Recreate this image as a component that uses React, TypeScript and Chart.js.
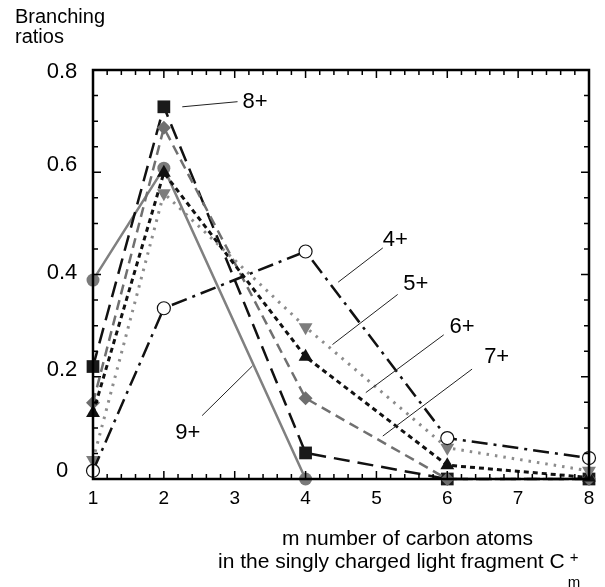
import React, { useEffect, useRef } from 'react';
import { Chart, registerables } from 'chart.js';

Chart.register(...registerables);

// ---- Data ----
const carbonAtoms = [1, 2, 4, 6, 8];
const carbonAtoms9 = [1, 2, 4];
const ratios4 = [0.016, 0.334, 0.445, 0.080, 0.041];
const ratios5 = [0.037, 0.559, 0.297, 0.061, 0.016];
const ratios6 = [0.129, 0.599, 0.239, 0.027, 0.003];
const ratios7 = [0.149, 0.687, 0.158, 0.0, 0.0];
const ratios8 = [0.220, 0.728, 0.051, 0.0, 0.0];
const ratios9 = [0.389, 0.608, 0.0];
const seriesLabels = ['4+', '5+', '6+', '7+', '8+', '9+'];
const xTickValues = [1, 2, 3, 4, 5, 6, 7, 8];
const yTickValues = [0, 0.2, 0.4, 0.6, 0.8];
const yTickLabels = ['0', '0.2', '0.4', '0.6', '0.8'];

const FONT = '"Liberation Sans", Arial, Helvetica, sans-serif';

// label annotations (in data coordinates): [lineFromX, lineFromY, lineToX, lineToY, textX, textY]
const labelAnchors: Record<string, number[]> = {
  '8+': [2.26, 0.728, 3.04, 0.738, 3.11, 0.738],
  '4+': [4.46, 0.385, 5.09, 0.452, 5.09, 0.468],
  '5+': [4.38, 0.263, 5.30, 0.361, 5.38, 0.381],
  '6+': [4.85, 0.169, 5.95, 0.282, 6.03, 0.298],
  '7+': [5.09, 0.084, 6.35, 0.215, 6.52, 0.239],
  '9+': [2.54, 0.124, 3.25, 0.221, 2.16, 0.090],
};

const toPoints = (xs: number[], ys: number[]) => xs.map((x, i) => ({ x, y: ys[i] }));

const decorPlugin = {
  id: 'decor',
  afterDraw(chart: any) {
    const { ctx, chartArea: a, scales } = chart;
    const xs = scales.x;
    const ys = scales.y;
    ctx.save();
    // frame
    ctx.strokeStyle = '#000';
    ctx.lineWidth = 2.5;
    ctx.setLineDash([]);
    ctx.strokeRect(a.left, a.top, a.right - a.left, a.bottom - a.top);
    // x ticks (minor every 0.2)
    ctx.lineWidth = 1.5;
    for (let i = 0; i <= 35; i++) {
      const v = 1 + i * 0.2;
      const px = xs.getPixelForValue(v);
      const len = i % 5 === 0 ? 8 : 5;
      ctx.beginPath();
      ctx.moveTo(px, a.bottom);
      ctx.lineTo(px, a.bottom - len);
      ctx.moveTo(px, a.top);
      ctx.lineTo(px, a.top + len);
      ctx.stroke();
    }
    // y ticks (minor every 0.05)
    for (let i = 0; i <= 16; i++) {
      const v = i * 0.05;
      const py = ys.getPixelForValue(v);
      const len = i % 4 === 0 ? 8 : 5;
      ctx.beginPath();
      ctx.moveTo(a.left, py);
      ctx.lineTo(a.left + len, py);
      ctx.moveTo(a.right, py);
      ctx.lineTo(a.right - len, py);
      ctx.stroke();
    }
    // y tick labels
    const yOffsets = [-8, -7, -2, -7, 2];
    ctx.fillStyle = '#000';
    ctx.font = `22px ${FONT}`;
    ctx.textAlign = 'center';
    ctx.textBaseline = 'middle';
    yTickValues.forEach((v, i) => {
      ctx.fillText(yTickLabels[i], a.left - 31, ys.getPixelForValue(v) + yOffsets[i]);
    });
    // series labels with leader lines
    ctx.lineWidth = 1;
    ctx.strokeStyle = '#222';
    ctx.textAlign = 'left';
    ctx.font = `22px ${FONT}`;
    seriesLabels.forEach((lab) => {
      const p = labelAnchors[lab];
      if (!p) return;
      ctx.beginPath();
      ctx.moveTo(xs.getPixelForValue(p[0]), ys.getPixelForValue(p[1]));
      ctx.lineTo(xs.getPixelForValue(p[2]), ys.getPixelForValue(p[3]));
      ctx.stroke();
      ctx.fillText(lab, xs.getPixelForValue(p[4]), ys.getPixelForValue(p[5]));
    });
    // y-axis title
    ctx.textBaseline = 'alphabetic';
    ctx.font = `20px ${FONT}`;
    ctx.fillText('Branching', 15, 23);
    ctx.fillText('ratios', 15, 43);
    // x-axis title
    ctx.font = `21px ${FONT}`;
    ctx.fillText('m number of carbon atoms', 282, 545);
    const line2 = 'in the singly charged light fragment C';
    ctx.fillText(line2, 218, 568);
    const w = ctx.measureText(line2).width;
    ctx.font = `15px ${FONT}`;
    ctx.fillText('m', 218 + w + 3, 587);
    ctx.fillText('+', 218 + w + 5, 562);
    ctx.restore();
  },
};

export default function App() {
  const ref = useRef<HTMLCanvasElement>(null);
  useEffect(() => {
    if (!ref.current) return;
    const black = '#111111';
    const chart = new Chart(ref.current, {
      type: 'line',
      data: {
        datasets: [
          {
            label: seriesLabels[0],
            data: toPoints(carbonAtoms, ratios4),
            borderColor: black,
            borderWidth: 2.5,
            borderDash: [16, 6, 3, 6],
            pointStyle: 'circle',
            pointRadius: 6.5,
            pointBackgroundColor: '#ffffff',
            pointBorderColor: black,
            pointBorderWidth: 1.2,
          },
          {
            label: seriesLabels[1],
            data: toPoints(carbonAtoms, ratios5),
            borderColor: '#8c8c8c',
            borderWidth: 3,
            borderDash: [2.5, 6],
            pointStyle: 'triangle',
            rotation: 180,
            pointRadius: 8,
            pointBackgroundColor: '#7d7d7d',
            pointBorderColor: '#7d7d7d',
            pointBorderWidth: 0,
          },
          {
            label: seriesLabels[2],
            data: toPoints(carbonAtoms, ratios6),
            borderColor: black,
            borderWidth: 3,
            borderDash: [5, 4],
            pointStyle: 'triangle',
            pointRadius: 8,
            pointBackgroundColor: black,
            pointBorderColor: black,
            pointBorderWidth: 0,
          },
          {
            label: seriesLabels[3],
            data: toPoints(carbonAtoms, ratios7),
            borderColor: '#707070',
            borderWidth: 2.5,
            borderDash: [10, 6],
            pointStyle: 'rectRot',
            pointRadius: 7,
            pointBackgroundColor: '#6e6e6e',
            pointBorderColor: '#6e6e6e',
            pointBorderWidth: 0,
          },
          {
            label: seriesLabels[4],
            data: toPoints(carbonAtoms, ratios8),
            borderColor: black,
            borderWidth: 2.5,
            borderDash: [16, 8],
            pointStyle: 'rect',
            pointRadius: 9,
            pointBackgroundColor: '#1a1a1a',
            pointBorderColor: '#1a1a1a',
            pointBorderWidth: 0,
          },
          {
            label: seriesLabels[5],
            data: toPoints(carbonAtoms9, ratios9),
            borderColor: '#808080',
            borderWidth: 2.5,
            pointStyle: 'circle',
            pointRadius: 6.5,
            pointBackgroundColor: '#7a7a7a',
            pointBorderColor: '#7a7a7a',
            pointBorderWidth: 0,
          },
        ],
      },
      options: {
        responsive: false,
        animation: false,
        events: [],
        clip: false as any,
        layout: { padding: { top: 70, right: 16, left: 0, bottom: 0 } },
        plugins: { legend: { display: false }, tooltip: { enabled: false }, title: { display: false } },
        scales: {
          x: {
            type: 'linear',
            min: 1,
            max: 8,
            afterFit: (s: any) => { s.height = 108; },
            afterBuildTicks: (s: any) => { s.ticks = xTickValues.map((v) => ({ value: v })); },
            grid: { display: false, drawTicks: false },
            border: { display: false },
            ticks: {
              color: '#000',
              font: { family: FONT, size: 19 },
              padding: 8,
              maxRotation: 0,
              callback: (v: any) => String(v),
            },
          },
          y: {
            type: 'linear',
            min: 0,
            max: 0.8,
            afterFit: (s: any) => { s.width = 93; },
            afterBuildTicks: (s: any) => { s.ticks = yTickValues.map((v) => ({ value: v })); },
            grid: { display: false, drawTicks: false },
            border: { display: false },
            ticks: { display: false },
          },
        },
      },
      plugins: [decorPlugin],
    });
    return () => chart.destroy();
  }, []);
  return (
    <div style={{ position: 'fixed', left: 0, top: 0, width: 605, height: 587, background: '#fff' }}>
      <canvas ref={ref} width={605} height={587} />
    </div>
  );
}
